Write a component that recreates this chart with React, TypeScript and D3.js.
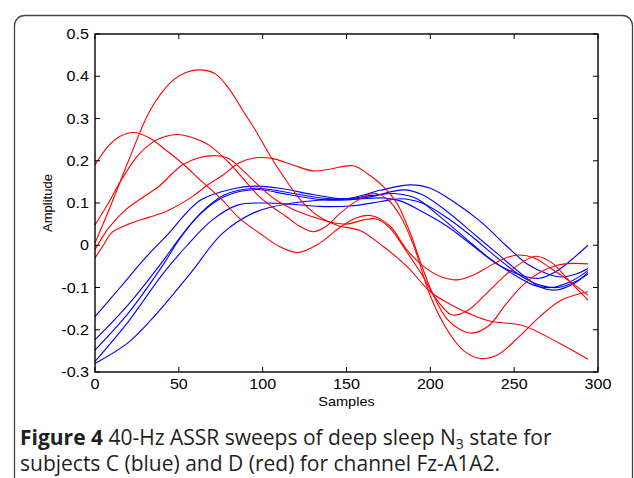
import React from "react";
import * as d3 from "d3";

// ---------- data (samples, amplitude) ----------
const blue1 = [[0,-0.169],[15,-0.1],[30,-0.03],[43,0.024],[63,0.107],[84,0.135],[96,0.14],[110,0.135],[130,0.12],[146,0.11],[160,0.11],[172,0.112],[182,0.105],[195,0.08],[210,0.045],[225,0.0],[240,-0.045],[255,-0.072],[265,-0.078],[275,-0.062],[284,-0.035],[294,0.0]];
const blue2 = [[0,-0.224],[20,-0.14],[40,-0.04],[51,0.02],[63,0.076],[77,0.119],[96,0.135],[115,0.125],[135,0.112],[150,0.11],[165,0.118],[180,0.122],[192,0.11],[205,0.07],[220,0.02],[235,-0.03],[250,-0.07],[262,-0.095],[272,-0.1],[284,-0.085],[294,-0.06]];
const blue3 = [[0,-0.248],[20,-0.16],[40,-0.05],[51,0.018],[63,0.075],[77,0.115],[96,0.132],[115,0.12],[135,0.108],[150,0.107],[165,0.115],[184,0.131],[195,0.12],[210,0.08],[225,0.03],[240,-0.02],[255,-0.07],[266,-0.1],[275,-0.106],[286,-0.09],[294,-0.064]];
const blue4 = [[0,-0.275],[20,-0.18],[40,-0.07],[55,0.0],[70,0.06],[85,0.095],[100,0.1],[118,0.097],[134,0.092],[152,0.093],[170,0.103],[182,0.11],[195,0.1],[210,0.065],[225,0.02],[240,-0.03],[255,-0.075],[266,-0.095],[276,-0.1],[287,-0.085],[294,-0.068]];
const blue5 = [[0,-0.28],[20,-0.23],[37,-0.161],[57,-0.066],[76,0.028],[96,0.079],[116,0.099],[135,0.107],[152,0.111],[170,0.13],[188,0.143],[200,0.135],[215,0.1],[230,0.056],[245,0.0],[258,-0.045],[270,-0.068],[278,-0.075],[287,-0.068],[294,-0.055]];

const red1 = [[0,0.005],[10,0.1],[20,0.2],[33,0.32],[45,0.385],[55,0.41],[63,0.415],[72,0.405],[80,0.37],[88,0.32],[96,0.27],[104,0.215],[112,0.165],[120,0.12],[128,0.085],[136,0.062],[146,0.045],[158,0.035],[172,-0.003],[186,-0.05],[200,-0.11],[212,-0.14],[224,-0.163],[236,-0.18],[255,-0.19],[277,-0.232],[294,-0.27]];
const red2 = [[0,0.19],[8,0.235],[15,0.258],[23,0.267],[32,0.255],[42,0.226],[52,0.194],[64,0.15],[76,0.107],[86,0.064],[98,0.029],[110,-0.003],[121,-0.017],[134,0.005],[146,0.042],[156,0.065],[165,0.07],[176,0.045],[186,-0.011],[196,-0.05],[206,-0.074],[216,-0.082],[226,-0.07],[235,-0.05],[245,-0.03],[253,-0.023],[262,-0.03],[272,-0.055],[283,-0.085],[294,-0.118]];
const red3 = [[0,0.048],[8,0.1],[15,0.15],[25,0.21],[33,0.24],[40,0.255],[49,0.262],[58,0.255],[68,0.237],[80,0.195],[90,0.15],[98,0.115],[106,0.09],[114,0.068],[122,0.045],[130,0.032],[138,0.045],[146,0.075],[156,0.105],[166,0.123],[174,0.11],[182,0.07],[190,0.0],[200,-0.12],[210,-0.2],[220,-0.25],[230,-0.268],[240,-0.26],[252,-0.22],[265,-0.17],[278,-0.13],[294,-0.11]];
const red4 = [[0,-0.01],[8,0.04],[18,0.083],[28,0.112],[38,0.139],[52,0.19],[62,0.207],[72,0.212],[80,0.205],[88,0.178],[98,0.14],[108,0.107],[118,0.085],[128,0.07],[140,0.055],[150,0.05],[160,0.06],[168,0.062],[176,0.04],[185,-0.01],[195,-0.07],[204,-0.13],[213,-0.165],[222,-0.155],[232,-0.12],[245,-0.07],[255,-0.04],[263,-0.026],[272,-0.04],[283,-0.085],[294,-0.13]];
const red5 = [[0,-0.03],[5,0.0],[10,0.03],[20,0.05],[32,0.066],[44,0.083],[58,0.115],[68,0.145],[76,0.165],[86,0.195],[96,0.207],[106,0.205],[118,0.19],[130,0.176],[140,0.18],[154,0.188],[164,0.165],[172,0.139],[180,0.1],[188,0.029],[195,-0.05],[202,-0.12],[210,-0.175],[218,-0.2],[225,-0.208],[235,-0.19],[245,-0.14],[255,-0.095],[265,-0.065],[275,-0.048],[285,-0.043],[294,-0.044]];

const blueSeries = [blue1, blue2, blue3, blue4, blue5];
const redSeries = [red1, red2, red3, red4, red5];

const xTicks = [0, 50, 100, 150, 200, 250, 300];
const yTicks = [-0.3, -0.2, -0.1, 0, 0.1, 0.2, 0.3, 0.4, 0.5];
const xLabel = "Samples";
const yLabel = "Amplitude";

// ---------- layout ----------
const W = 634, H = 478;
const L = 95, R = 598, T = 34, B = 372;

export default function App() {
  const x = d3.scaleLinear().domain([0, 300]).range([L, R]);
  const y = d3.scaleLinear().domain([-0.3, 0.5]).range([B, T]);
  const line = d3.line<number[]>().x(d => x(d[0])).y(d => y(d[1])).curve(d3.curveCatmullRom.alpha(0.5));
  const fmt = (v: number) => (Math.abs(v) < 1e-9 ? "0" : v.toFixed(1));
  const tk = 5;
  const tickFont = "'Liberation Sans', Arial, sans-serif";
  const sx = 1.15;
  return (
    <svg width={W} height={H} style={{ position: "absolute", left: 0, top: 0, background: "#fff" }}>
      <rect x={14.5} y={15.5} width={618} height={475} rx={10} ry={10} fill="none" stroke="#444" strokeWidth={1.3} />
      <rect x={L} y={T} width={R - L} height={B - T} fill="#fff" />
      <g fill="none" strokeWidth={1.1}>
        {blueSeries.map((s, i) => <path key={"b" + i} d={line(s) || ""} stroke="#0000ff" />)}
        {redSeries.map((s, i) => <path key={"r" + i} d={line(s) || ""} stroke="#ff0000" />)}
      </g>
      <rect x={L} y={T} width={R - L} height={B - T} fill="none" stroke="#000" strokeWidth={1.4} />
      {xTicks.map(t => (
        <g key={"x" + t}>
          <line x1={x(t)} x2={x(t)} y1={B} y2={B - tk} stroke="#000" />
          <line x1={x(t)} x2={x(t)} y1={T} y2={T + tk} stroke="#000" />
          <text transform={`translate(${x(t)},389) scale(${sx},1)`} textAnchor="middle" fontFamily={tickFont} fontSize={14}>{t}</text>
        </g>
      ))}
      {yTicks.map(t => (
        <g key={"y" + t}>
          <line x1={L} x2={L + tk} y1={y(t)} y2={y(t)} stroke="#000" />
          <line x1={R} x2={R - tk} y1={y(t)} y2={y(t)} stroke="#000" />
          <text transform={`translate(89,${y(t) + 5}) scale(${sx},1)`} textAnchor="end" fontFamily={tickFont} fontSize={14}>{fmt(t)}</text>
        </g>
      ))}
      <text transform={`translate(${(L + R) / 2},406) scale(1.12,1)`} textAnchor="middle" fontFamily={tickFont} fontSize={13}>{xLabel}</text>
      <text transform={`translate(52,${(T + B) / 2}) rotate(-90)`} textAnchor="middle" fontFamily={tickFont} fontSize={13}>{yLabel}</text>
      <g fontFamily="'Open Sans', 'Noto Sans', sans-serif" fontSize={21} fill="#231f20">
        <text x={20} y={445}>
          <tspan fontWeight="bold">Figure 4</tspan>
          <tspan> 40-Hz ASSR sweeps of deep sleep N</tspan>
          <tspan fontSize={14} baselineShift="-4">3</tspan>
          <tspan> state for</tspan>
        </text>
        <text x={20} y={471}>subjects C (blue) and D (red) for channel Fz-A1A2.</text>
      </g>
    </svg>
  );
}
